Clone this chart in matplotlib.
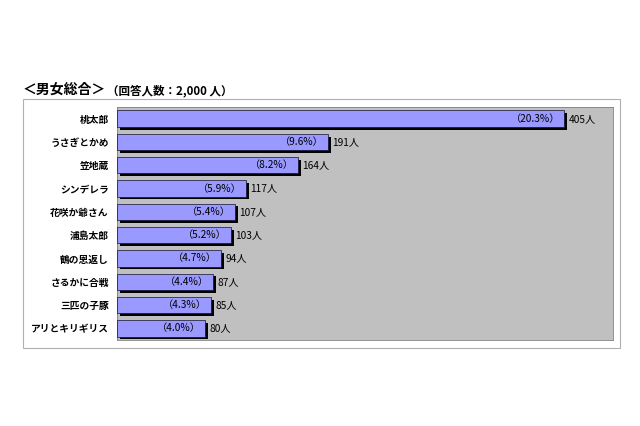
import matplotlib
matplotlib.use("Agg")
import matplotlib.pyplot as plt
import matplotlib.patheffects as pe
from matplotlib.patches import Rectangle

plt.rcParams['font.family'] = ['Noto Sans CJK JP', 'DejaVu Sans']

categories = ["桃太郎", "うさぎとかめ", "笠地蔵", "シンデレラ", "花咲か爺さん",
              "浦島太郎", "鶴の恩返し", "さるかに合戦", "三匹の子豚", "アリとキリギリス"]
counts = [405, 191, 164, 117, 107, 103, 94, 87, 85, 80]
percents = ["20.3", "9.6", "8.2", "5.9", "5.4", "5.2", "4.7", "4.4", "4.3", "4.0"]
title_main = "＜男女総合＞"
title_sub = "（回答人数：2,000 人）"

W, H = 640, 426
fig = plt.figure(figsize=(W / 100, H / 100), dpi=100)
fig.patch.set_facecolor("white")

# outer chart frame
frame = Rectangle((23 / W, 1 - 348 / H), (620 - 23) / W, (348 - 99) / H,
                  transform=fig.transFigure, facecolor="none",
                  edgecolor="#b0b0b0", linewidth=0.8, zorder=-5)
fig.patches.append(frame)

ax = fig.add_axes([117 / W, 1 - 340 / H, (613 - 117) / W, (340 - 107) / H], zorder=2)
ax.set_facecolor("#c0c0c0")
ax.set_xlim(0, 449)
ax.set_ylim(len(categories) - 0.5, -0.5)

ys = list(range(len(categories)))
bars = ax.barh(ys, counts, height=0.7, color="#9999ff", edgecolor="#101030",
               linewidth=0.5, zorder=3)
for b in bars:
    b.set_path_effects([pe.SimplePatchShadow(offset=(2.0, -2.0), shadow_rgbFace="black", alpha=1.0),
                        pe.Normal()])

for y, c, p in zip(ys, counts, percents):
    ax.annotate(f"（{p}%）", xy=(c, y), xytext=(-3, 0), textcoords="offset points",
                ha="right", va="center", fontsize=7.3, color="black", zorder=5)
    ax.annotate(f"{c}人", xy=(c, y), xytext=(3, 0), textcoords="offset points",
                ha="left", va="center", fontsize=7.3, color="black", zorder=5)

ax.set_yticks(ys)
ax.set_yticklabels(categories, fontsize=7, fontweight="bold")
ax.tick_params(axis="y", length=0, pad=6)
ax.set_xticks([])
for s in ax.spines.values():
    s.set_color("#808080")
    s.set_linewidth(0.6)

fig.text(23 / W, 1 - 90 / H, title_main, fontsize=10, fontweight="bold",
         ha="left", va="center")
fig.text(107 / W, 1 - 91 / H, title_sub, fontsize=8.3, fontweight="bold",
         ha="left", va="center")

fig.savefig("out.png", dpi=100)
